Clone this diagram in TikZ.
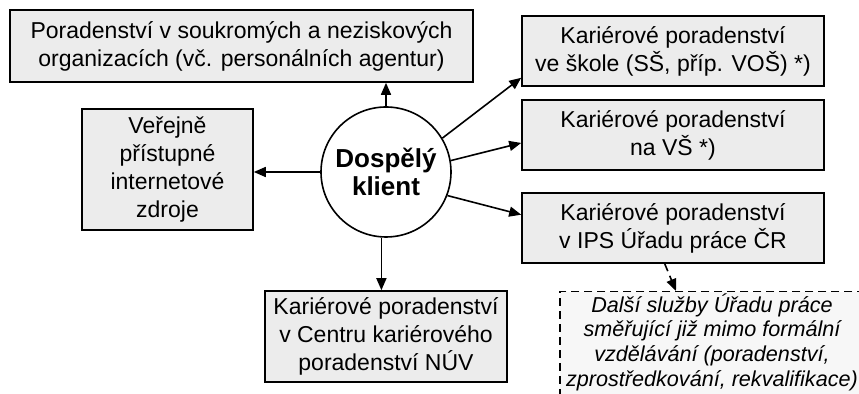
\documentclass[tikz,border=0pt]{standalone}
\usepackage{fontspec}
\setmainfont{Liberation Sans}
\usetikzlibrary{arrows.meta}

\begin{document}
\begin{tikzpicture}[x=0.5pt,y=-0.5pt,font=\fontsize{11.5}{14}\selectfont,
  box/.style={draw,line width=0.8pt,fill=gray!15,align=center,inner sep=0pt},
  dashbox/.style={draw,line width=0.7pt,dash pattern=on 4pt off 2.5pt,fill=gray!6,align=center,inner xsep=0pt,inner ysep=0.8pt},
  link/.style={line width=0.8pt,-{Triangle[length=6pt,width=5pt]}}]
\useasboundingbox (0,0) rectangle (859,394);
\clip (0,0) rectangle (859,394);
% client in the middle
\node[circle,draw,line width=0.8pt,minimum size=65pt,inner sep=0pt,align=center,
  font=\fontsize{13}{14}\selectfont\bfseries] (klient) at (386,172) {Dospělý\\klient};
\node[box,minimum width=231.5pt,minimum height=36pt] (org) at (241.5,46)
  {Poradenství v soukromých a neziskových\\organizacích (vč. personálních agentur)};
\node[box,minimum width=85.5pt,minimum height=60.5pt] (web) at (167.5,169.5)
  {Veřejně\\přístupné\\internetové\\zdroje};
\node[box,minimum width=121pt,minimum height=45.5pt] (nuv) at (386,336.5)
  {Kariérové poradenství\\v Centru kariérového\\poradenství NÚV};
\foreach \n/\y/\t in {skola/51/{Kariérové poradenství\\ve škole (SŠ, příp. VOŠ) *)},
                      vs/135/{Kariérové poradenství\\na VŠ *)},
                      ips/228/{Kariérové poradenství\\v IPS Úřadu práce ČR}}{
  \node[box,minimum width=151pt,minimum height=35pt] (\n) at (673,\y) {\t};}
% the box runs on past the right and bottom edges
\node[dashbox,minimum width=152pt,text depth=15pt,anchor=north,font=\fontsize{10.8}{12.4}\selectfont\itshape] (dalsi) at (712,291)
  {Další služby Úřadu práce\\směřující již mimo formální\\vzdělávání (poradenství,\\zprostředkování, rekvalifikace)};
% arrows out of the client
\draw[link] (klient.north) -- (klient.north |- org.south);
\draw[link] (klient.west) -- (klient.west -| web.east);
\draw[link] (klient.266) -- (klient.266 |- nuv.north);
\foreach \a/\t in {31/skola.190,10/vs.183,339/ips.175}
  \draw[link] (klient.\a) -- (\t);
\draw[link,dash pattern=on 4pt off 2.5pt] (ips.257) -- (dalsi.north -| 676,0);
\end{tikzpicture}
\end{document}
